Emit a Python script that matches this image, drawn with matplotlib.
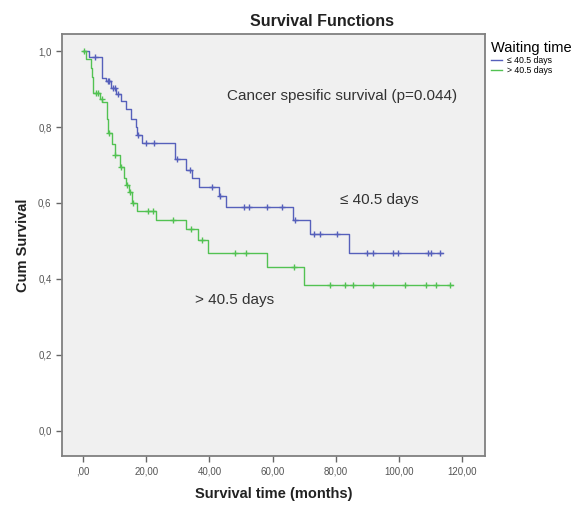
import numpy as np
import matplotlib
matplotlib.use("Agg")
import matplotlib.pyplot as plt

plt.rcParams['font.family'] = ['Liberation Sans', 'DejaVu Sans']

# group <= 40.5 days (blue): event times and survival after each step
blue_t = [0, 2.0, 5.9, 7.4, 9.0, 10.6, 12.2, 13.7, 15.3, 16.7, 17.2, 18.7, 29.2, 32.6, 34.5, 36.8, 43.1, 45.2, 66.4, 71.9, 84.0]
blue_s = [1.0, 0.984, 0.93, 0.922, 0.904, 0.887, 0.869, 0.848, 0.822, 0.80, 0.778, 0.758, 0.715, 0.687, 0.666, 0.643, 0.617, 0.589, 0.556, 0.517, 0.467]
blue_end = 113.8
blue_cens = [3.8, 7.8, 8.4, 9.4, 10.0, 11.0, 17.5, 20.0, 22.4, 29.9, 34.0, 40.9, 43.5, 50.9, 52.5, 58.3, 63.0,
             67.2, 73.0, 75.0, 80.3, 89.7, 91.8, 98.1, 99.7, 109.1, 110.0, 112.8]

# group > 40.5 days (green)
green_t = [0, 1.0, 2.5, 3.0, 3.3, 5.5, 6.2, 7.5, 8.0, 9.3, 10.0, 11.8, 13.0, 13.6, 14.5, 15.5, 17.0, 23.2, 32.6, 36.3, 39.4, 58.3, 69.8]
green_s = [1.0, 0.978, 0.956, 0.933, 0.89, 0.874, 0.865, 0.82, 0.784, 0.756, 0.726, 0.695, 0.665, 0.648, 0.63, 0.60, 0.578, 0.556, 0.53, 0.502, 0.469, 0.43, 0.384]
green_end = 117.0
green_cens = [0.5, 4.0, 4.8, 6.0, 8.3, 10.3, 12.0, 13.8, 14.8, 16.0, 20.5, 22.1, 28.5, 34.2, 37.8, 48.1, 51.5,
              66.7, 78.2, 82.9, 85.5, 91.8, 101.8, 108.6, 111.7, 115.9]

xticks = [0, 20, 40, 60, 80, 100, 120]
xtick_labels = [",00", "20,00", "40,00", "60,00", "80,00", "100,00", "120,00"]
yticks = [0.0, 0.2, 0.4, 0.6, 0.8, 1.0]
ytick_labels = ["0,0", "0,2", "0,4", "0,6", "0,8", "1,0"]

blue = '#5660bb'
green = '#52c252'

fig = plt.figure(figsize=(5.87, 5.05), dpi=100)
ax = fig.add_axes([0.1056, 0.0978, 0.72, 0.834])
ax.set_facecolor('#f0f0f0')


def km_curve(t, s, end, cens, color, label):
    tt = list(t) + [end]
    ss = list(s) + [s[-1]]
    ax.step(tt, ss, where='post', color=color, lw=1.0, label=label)
    idx = np.searchsorted(t, cens, side='right') - 1
    ax.plot(cens, np.array(s)[idx], '+', color=color, ms=5, mew=1.0)


km_curve(blue_t, blue_s, blue_end, blue_cens, blue, "≤ 40.5 days")
km_curve(green_t, green_s, green_end, green_cens, green, "> 40.5 days")

ax.set_xlim(-6.6, 127)
ax.set_ylim(-0.066, 1.044)
ax.set_xticks(xticks)
ax.set_xticklabels(xtick_labels, fontsize=7, color='#555555')
ax.set_yticks(yticks)
ax.set_yticklabels(ytick_labels, fontsize=7, color='#555555')
ax.tick_params(length=4, width=1, color='#666666')
for sp in ax.spines.values():
    sp.set_color('#808080')
    sp.set_linewidth(1.3)

# SPSS centres the title over plot + legend
fig.text(0.549, 0.958, "Survival Functions", fontsize=11.5, fontweight='bold', color='#222222',
         ha='center', va='center')
ax.set_xlabel("Survival time (months)", fontsize=10.5, fontweight='bold', color='#222222', labelpad=8)
ax.set_ylabel("Cum Survival", fontsize=10.5, fontweight='bold', color='#222222')
ax.yaxis.set_label_coords(-0.075, 0.5)

ax.text(45.5, 0.881, "Cancer spesific survival (p=0.044)", fontsize=11, color='#333333', va='center')
ax.text(81.4, 0.608, "≤ 40.5 days", fontsize=11, color='#333333', va='center')
ax.text(35.5, 0.344, "> 40.5 days", fontsize=11, color='#333333', va='center')

leg = ax.legend(loc='upper left', bbox_to_anchor=(1.0, 1.0), title="Waiting time", fontsize=6.3,
                title_fontsize=10.5, frameon=False, handlelength=1.3, handletextpad=0.5,
                labelspacing=0.15, borderaxespad=0.3)
leg._legend_box.align = "left"

fig.savefig("out.png", dpi=100)
